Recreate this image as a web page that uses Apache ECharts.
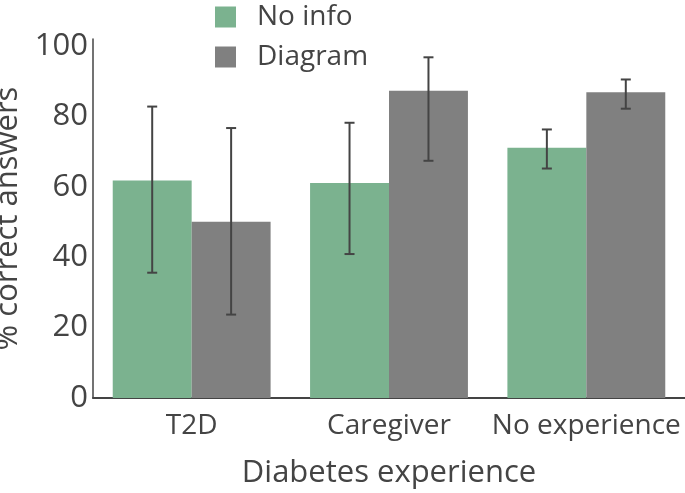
<!DOCTYPE html>
<html><head><meta charset="utf-8">
<script src="https://cdn.jsdelivr.net/npm/echarts@6/dist/echarts.min.js"></script>
<style>html,body{margin:0;padding:0;background:#fff}#c{width:685px;height:493px}</style>
</head><body><div id="c"></div>
<script>
const categories = ['T2D', 'Caregiver', 'No experience'];
const seriesNames = ['No info', 'Diagram'];
const noInfo = [61.8, 61.1, 71.1];
const noInfoLow = [35.6, 40.9, 65.2];
const noInfoHigh = [82.8, 78.2, 76.3];
const diagram = [50.1, 87.3, 86.9];
const diagramLow = [23.7, 67.4, 82.2];
const diagramHigh = [76.7, 96.8, 90.5];
const yTicks = [0, 20, 40, 60, 80, 100];

const green = 'rgb(123,178,143)';
const gray = 'rgb(128,128,128)';
const txt = '#444';
const font = 'Open Sans';

function errSeries(low, high, offsetSign) {
  return {
    type: 'custom',
    silent: true,
    z: 10,
    data: categories.map((c, i) => [i, low[i], high[i]]),
    renderItem: function (params, api) {
      const i = api.value(0);
      const band = api.size([1, 0])[0];
      const p1 = api.coord([i, api.value(1)]);
      const p2 = api.coord([i, api.value(2)]);
      const x = p1[0] + offsetSign * band * 0.2;
      const cap = 5;
      const style = { stroke: '#444', lineWidth: 2, fill: null };
      return {
        type: 'group',
        children: [
          { type: 'line', shape: { x1: x, y1: p1[1], x2: x, y2: p2[1] }, style },
          { type: 'line', shape: { x1: x - cap, y1: p1[1], x2: x + cap, y2: p1[1] }, style },
          { type: 'line', shape: { x1: x - cap, y1: p2[1], x2: x + cap, y2: p2[1] }, style }
        ]
      };
    }
  };
}

const chart = echarts.init(document.getElementById('c'));
chart.setOption({
  animation: false,
  textStyle: { fontFamily: font },
  legend: {
    orient: 'vertical',
    left: 210, top: -2,
    itemWidth: 21, itemHeight: 21, itemGap: 12,
    icon: 'rect',
    data: seriesNames,
    textStyle: { fontSize: 28, lineHeight: 28, color: txt, fontFamily: font, padding: [0, 0, 0, 16] }
  },
  grid: { left: 93, right: 0, top: 39, bottom: 95, containLabel: false, outerBoundsMode: 'none' },
  xAxis: {
    type: 'category',
    data: categories,
    axisLine: { lineStyle: { color: '#444', width: 2 } },
    axisTick: { show: false },
    axisLabel: { fontSize: 28, color: txt, margin: 14, fontFamily: font, interval: 0 },
    name: 'Diabetes experience',
    nameLocation: 'middle',
    nameGap: 60,
    nameTextStyle: { fontSize: 31, color: txt, fontFamily: font }
  },
  yAxis: {
    type: 'value',
    min: 0, max: 102, interval: 20,
    axisLine: { show: true, lineStyle: { color: '#444', width: 1.5 } },
    axisTick: { show: false },
    splitLine: { show: false },
    axisLabel: {
      fontSize: 31, color: txt, margin: 5, fontFamily: font,
      formatter: v => yTicks.includes(v) ? String(v) : ''
    },
    name: '% correct answers',
    nameLocation: 'middle',
    nameGap: 66,
    nameTextStyle: { fontSize: 31, color: txt, fontFamily: font }
  },
  series: [
    { name: seriesNames[0], type: 'bar', data: noInfo, barGap: '0%', barCategoryGap: '20%', itemStyle: { color: green } },
    { name: seriesNames[1], type: 'bar', data: diagram, barGap: '0%', barCategoryGap: '20%', itemStyle: { color: gray } },
    errSeries(noInfoLow, noInfoHigh, -1),
    errSeries(diagramLow, diagramHigh, 1)
  ]
});
</script></body></html>
